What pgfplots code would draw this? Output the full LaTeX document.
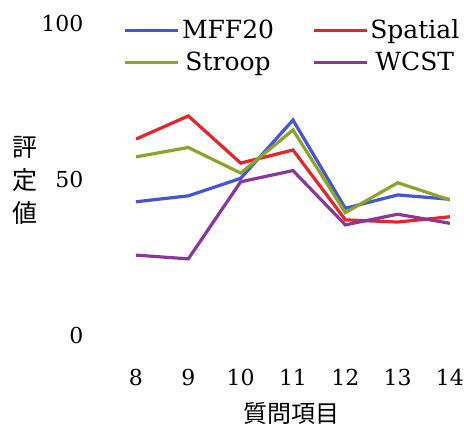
\documentclass[border=0pt]{standalone}
\usepackage{pgfplots}
\pgfplotsset{compat=1.18}
\usepackage{fontspec}
\setmainfont{DejaVu Serif}
\newfontfamily\jp{Noto Sans CJK JP}
\definecolor{cMFF}{RGB}{70,84,215}
\definecolor{cSpa}{RGB}{230,36,42}
\definecolor{cStr}{RGB}{140,165,40}
\definecolor{cWC}{RGB}{138,55,155}
\begin{document}
\fontsize{22}{26}\selectfont
\begin{tikzpicture}
\begin{axis}[
  name=ax,
  scale only axis, width=314pt, height=312pt,
  xmin=8, xmax=14, ymin=0, ymax=100,
  xtick={8,...,14}, ytick={0,50,100},
  /pgf/number format/assume math mode=true,
  axis line style={draw=none}, major tick length=0pt,
  tick label style={font=\fontsize{22}{26}\selectfont},
  yticklabel style={xshift=-45pt},
  xticklabel style={yshift=-27pt},
  xlabel={\jp 質問項目},
  xlabel style={font=\fontsize{24}{28}\selectfont, at={(axis description cs:0.495,-0.252)}, anchor=center},
  ylabel={\jp\shortstack{評\\[7pt]定\\[7pt]値}},
  ylabel style={rotate=-90, font=\fontsize{25}{29}\selectfont, at={(axis description cs:-0.3535,0.494)}, anchor=center},
  legend columns=2,
  legend style={draw=none, fill=none, at={(axis description cs:-0.049,1.025)}, anchor=north west,
    font=\fontsize{25}{29}\selectfont, row sep=6pt, /tikz/every even column/.append style={column sep=36pt}},
  legend image code/.code={\draw[#1] (0pt,0pt) -- (53pt,0pt);},
  every axis plot/.append style={line width=3.2pt},
]
\addplot[cMFF] coordinates {(8,42.7) (9,44.6) (10,50.2) (11,68.9) (12,40.6) (13,44.9) (14,43.5)};
\addlegendentry{MFF20}
\addplot[cSpa] coordinates {(8,62.8) (9,70.2) (10,55.1) (11,59.3) (12,36.9) (13,36.2) (14,37.9)};
\addlegendentry{Spatial}
\addplot[cStr] coordinates {(8,57.1) (9,60.1) (10,51.9) (11,65.7) (12,39.2) (13,48.8) (14,43.3)};
\addlegendentry{Stroop}
\addplot[cWC] coordinates {(8,25.6) (9,24.4) (10,49.1) (11,52.7) (12,35.3) (13,38.7) (14,35.8)};
\addlegendentry{WCST}
\end{axis}
\pgfresetboundingbox
\path ([xshift=-136pt,yshift=-93pt]ax.south west) rectangle ([xshift=328pt,yshift=335pt]ax.south west);
\end{tikzpicture}
\end{document}
